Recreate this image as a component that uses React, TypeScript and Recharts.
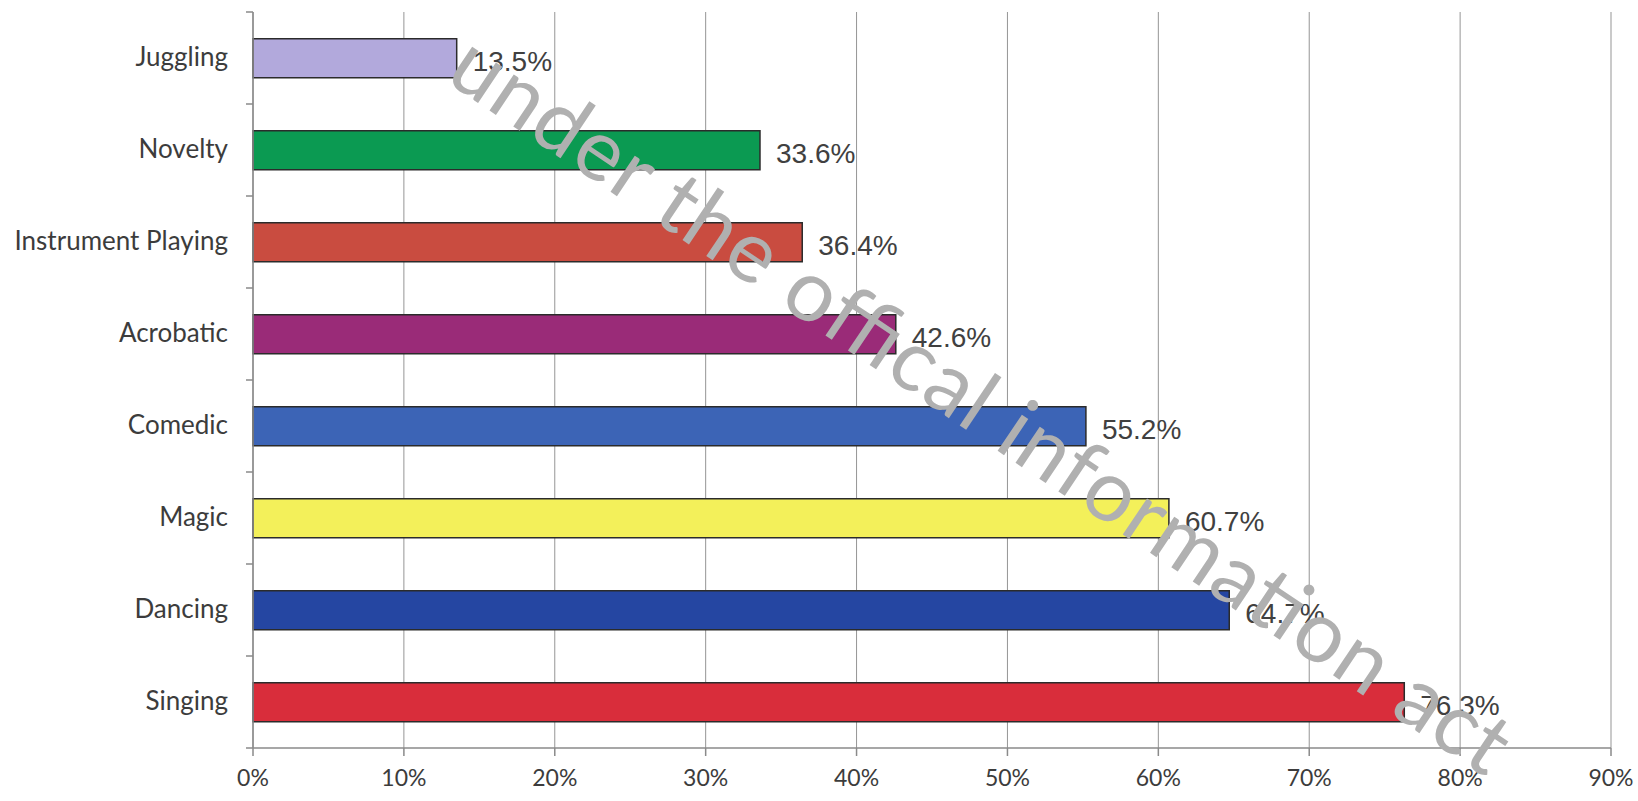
import { Bar, BarChart, CartesianGrid, Cell, LabelList, XAxis, YAxis } from "recharts";

const categories = [
  "Juggling",
  "Novelty",
  "Instrument Playing",
  "Acrobatic",
  "Comedic",
  "Magic",
  "Dancing",
  "Singing",
];
const percentages = [13.5, 33.6, 36.4, 42.6, 55.2, 60.7, 64.7, 76.3];
const barColors = [
  "#b2a9dc",
  "#0b9a52",
  "#c94c40",
  "#9a2b78",
  "#3c64b6",
  "#f3f05a",
  "#2546a2",
  "#d92d3b",
];
const xTicks = [0, 10, 20, 30, 40, 50, 60, 70, 80, 90];
const watermark = "under the offical information act";

const data = categories.map((name, i) => ({ name, value: percentages[i] }));

const W = 1638;
const H = 801;
const AXIS_X = 253;
const axisFont = "Lato, 'Open Sans', sans-serif";

// category labels at band centres, tick marks on band edges (Excel style)
const CategoryTick = (props: any) => {
  const { x, y, payload, index } = props;
  const half = payload?.offset ?? 46;
  const last = index === categories.length - 1;
  return (
    <g>
      <line x1={AXIS_X - 7} x2={AXIS_X} y1={y - half} y2={y - half} stroke="#8a8a8a" strokeWidth={1.5} />
      {last && (
        <line x1={AXIS_X - 7} x2={AXIS_X} y1={y + half} y2={y + half} stroke="#8a8a8a" strokeWidth={1.5} />
      )}
      <text x={x} y={y} dy={8} textAnchor="end" fill="#3c3c3c" fontSize={26} fontFamily={axisFont}>
        {payload.value}
      </text>
    </g>
  );
};

export default function App() {
  return (
    <div style={{ position: "absolute", left: 0, top: 0, width: W, height: H, background: "#fff", overflow: "hidden" }}>
      <BarChart
        width={W}
        height={H}
        data={data}
        layout="vertical"
        margin={{ top: 12, right: 27, bottom: 8, left: 0 }}
        barCategoryGap="29%"
      >
        <CartesianGrid horizontal={false} stroke="#959595" strokeWidth={1} />
        <XAxis
          type="number"
          domain={[0, 90]}
          ticks={xTicks}
          interval={0}
          tickFormatter={(v) => `${v}%`}
          height={45}
          tickSize={8}
          tickMargin={14}
          axisLine={{ stroke: "#8a8a8a", strokeWidth: 1.5 }}
          tickLine={{ stroke: "#8a8a8a", strokeWidth: 1.5 }}
          tick={{ fill: "#3c3c3c", fontSize: 23, fontFamily: axisFont }}
        />
        <YAxis
          type="category"
          dataKey="name"
          width={AXIS_X}
          tickLine={false}
          tickSize={0}
          tickMargin={25}
          interval={0}
          axisLine={{ stroke: "#8a8a8a", strokeWidth: 1.5 }}
          tick={<CategoryTick />}
        />
        <Bar dataKey="value" stroke="#2b2b2b" strokeWidth={1.5} isAnimationActive={false}>
          {data.map((d, i) => (
            <Cell key={d.name} fill={barColors[i]} />
          ))}
          <LabelList
            dataKey="value"
            position="right"
            offset={16}
            formatter={(v: any) => `${Number(v).toFixed(1)}%`}
            style={{ fill: "#404040", fontSize: 28, fontFamily: "'Liberation Sans', Arial, sans-serif", transform: "translateY(3px)" }}
          />
        </Bar>
      </BarChart>
      <svg width={W} height={H} style={{ position: "absolute", left: 0, top: 0, pointerEvents: "none" }}>
        <text
          x={462}
          y={52}
          textLength={1255}
          lengthAdjust="spacing"
          dominantBaseline="central"
          transform="rotate(33.8 462 52)"
          fill="#b0b0b0"
          fontSize={86}
          fontFamily="Lato, 'Liberation Sans', sans-serif"
        >
          {watermark}
        </text>
      </svg>
    </div>
  );
}
